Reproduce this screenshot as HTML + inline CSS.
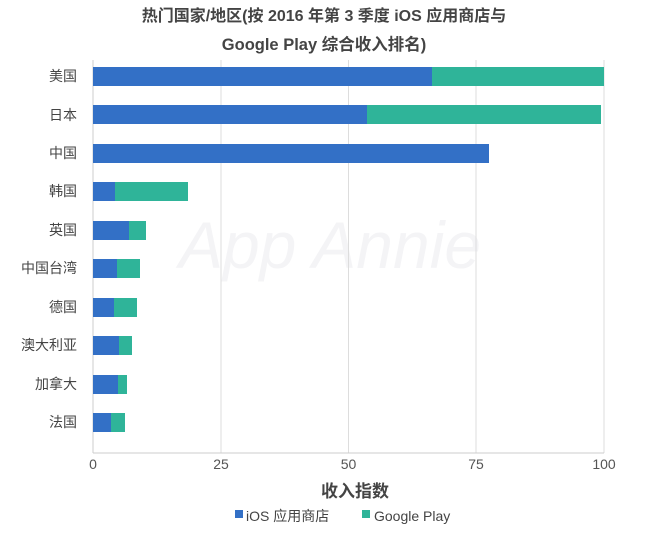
<!DOCTYPE html><html><head><meta charset="utf-8"><style>body{margin:0;background:#fff}</style></head><body>
<svg width="648" height="540" xmlns="http://www.w3.org/2000/svg" font-family="Liberation Sans, Noto Sans CJK SC, sans-serif">
<text x="324" y="21" text-anchor="middle" font-size="16" font-weight="bold" fill="#444">热门国家/地区(按 2016 年第 3 季度 iOS 应用商店与</text>
<text x="324" y="50" text-anchor="middle" font-size="16.5" font-weight="bold" fill="#444">Google Play 综合收入排名)</text>
<text x="330" y="268" text-anchor="middle" font-size="66" font-style="italic" fill="#f4f4f6">App Annie</text>
<g stroke="#ddd" stroke-width="1">
<line x1="221" y1="60" x2="221" y2="453"/><line x1="348.5" y1="60" x2="348.5" y2="453"/><line x1="476" y1="60" x2="476" y2="453"/><line x1="604" y1="60" x2="604" y2="453"/>
<line x1="93" y1="60" x2="93" y2="453" stroke="#ccc"/><line x1="93" y1="453" x2="604" y2="453" stroke="#ccc"/>
</g>
<g font-size="14" fill="#444" text-anchor="end">
<text x="77" y="81">美国</text><text x="77" y="120">日本</text><text x="77" y="158">中国</text><text x="77" y="196">韩国</text><text x="77" y="235">英国</text><text x="77" y="273">中国台湾</text><text x="77" y="312">德国</text><text x="77" y="350">澳大利亚</text><text x="77" y="389">加拿大</text><text x="77" y="427">法国</text>
</g>
<g fill="#3370c6">
<rect x="93" y="67" width="339" height="19"/><rect x="93" y="105" width="274" height="19"/><rect x="93" y="144" width="396" height="19"/><rect x="93" y="182" width="22" height="19"/><rect x="93" y="221" width="36" height="19"/><rect x="93" y="259" width="24" height="19"/><rect x="93" y="298" width="21" height="19"/><rect x="93" y="336" width="26" height="19"/><rect x="93" y="375" width="25" height="19"/><rect x="93" y="413" width="18" height="19"/>
</g>
<g fill="#2fb499">
<rect x="432" y="67" width="172" height="19"/><rect x="367" y="105" width="234" height="19"/><rect x="115" y="182" width="73" height="19"/><rect x="129" y="221" width="17" height="19"/><rect x="117" y="259" width="23" height="19"/><rect x="114" y="298" width="23" height="19"/><rect x="119" y="336" width="13" height="19"/><rect x="118" y="375" width="9" height="19"/><rect x="111" y="413" width="14" height="19"/>
</g>
<g font-size="14" fill="#555" text-anchor="middle">
<text x="93" y="469">0</text><text x="221" y="469">25</text><text x="348.5" y="469">50</text><text x="476" y="469">75</text><text x="604" y="469">100</text>
</g>
<text x="355" y="497" text-anchor="middle" font-size="17" font-weight="bold" fill="#444">收入指数</text>
<rect x="235" y="510" width="8" height="8" fill="#3370c6"/>
<text x="246" y="521" font-size="14" fill="#444">iOS 应用商店</text>
<rect x="362" y="510" width="8" height="8" fill="#2fb499"/>
<text x="374" y="521" font-size="14" fill="#444">Google Play</text>
</svg>
</body></html>
